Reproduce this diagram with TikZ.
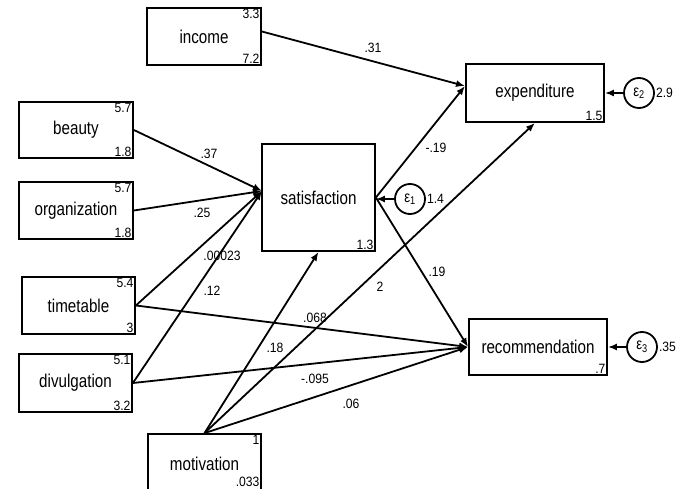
\documentclass[tikz,border=0pt]{standalone}
\usepackage{fontspec}
\setmainfont{Liberation Sans}
\newfontfamily\varfont{Liberation Sans}[FakeStretch=0.82]
\newfontfamily\numfont{Liberation Sans}[FakeStretch=0.9]
\usetikzlibrary{arrows.meta}

\tikzset{
  var/.style={draw, line width=1.8pt, inner sep=0pt, font=\varfont\fontsize{18.5}{20}\selectfont},
  num/.style={font=\numfont\fontsize{13.5}{15}\selectfont, inner sep=2.2pt},
  err/.style={draw, circle, line width=1.8pt, minimum size=30pt, inner sep=0pt, font=\varfont\fontsize{16}{18}\selectfont},
  link/.style={line width=1.8pt, -{Latex[length=9pt,width=7pt]}},
  coef/.style={font=\numfont\fontsize{13.5}{15}\selectfont, inner sep=0pt},
}

\begin{document}
\begin{tikzpicture}[x=1pt, y=-1pt]
		\useasboundingbox (0,0) rectangle (686,489);

		% observed variables
		\node[var, minimum width=114pt, minimum height=57pt,
			label={[num,anchor=north east]north east:3.3},
			label={[num,anchor=south east]south east:7.2}] (inc) at (204,36.5) {income};
		\node[var, minimum width=114pt, minimum height=56pt,
			label={[num,anchor=north east]north east:5.7},
			label={[num,anchor=south east]south east:1.8}] (beauty) at (76,130) {beauty};
		\node[var, minimum width=114pt, minimum height=57pt,
			label={[num,anchor=north east]north east:5.7},
			label={[num,anchor=south east]south east:1.8}] (org) at (76,210.5) {organization};
		\node[var, minimum width=113pt, minimum height=57pt,
			label={[num,anchor=north east]north east:5.4},
			label={[num,anchor=south east]south east:3}] (time) at (78.5,305.5) {timetable};
		\node[var, minimum width=113pt, minimum height=58pt,
			label={[num,anchor=north east]north east:5.1},
			label={[num,anchor=south east]south east:3.2}] (div) at (75.5,383) {divulgation};
		\node[var, minimum width=113pt, minimum height=60pt,
			label={[num,anchor=north east]north east:1},
			label={[num,anchor=south east,yshift=6pt]south east:.033}] (mot) at (204.5,464) {motivation};
		\node[var, minimum width=113pt, minimum height=107pt,
			label={[num,anchor=south east]south east:1.3}] (sat) at (318.5,197.5) {satisfaction};
		\node[var, minimum width=138pt, minimum height=58pt,
			label={[num,anchor=south east]south east:1.5}] (exp) at (535,93) {expenditure};
		\node[var, minimum width=138pt, minimum height=56pt,
			label={[num,anchor=south east]south east:.7}] (rec) at (538,347) {recommendation};

		% error terms
		\node[err, label={[num,inner sep=1pt]east:1.4}] (e1) at (410,199) {ε\textsubscript{1}};
		\node[err, label={[num,inner sep=1pt]east:2.9}] (e2) at (639,93) {ε\textsubscript{2}};
		\node[err, label={[num,inner sep=1pt]east:.35}] (e3) at (642,347) {ε\textsubscript{3}};

		\coordinate (satin) at (262,191);
		\coordinate (expin) at (465,86);

		% paths
		\draw[link] ([yshift=5pt]inc.east) -- (expin);
		\draw[link] (beauty.east) -- (satin);
		\draw[link] (org.east) -- (satin);
		\draw[link] (time.east) -- (satin);
		\draw[link] (div.east) -- (satin);
		\draw[link] (mot.north) -- (sat.south);
		\draw[link] (mot.north) -- (exp.south);
		\draw[link] (mot.north) -- (rec.west);
		\draw[link] (time.east) -- (rec.west);
		\draw[link] (div.east) -- (rec.west);
		\draw[link] (sat.east) -- (expin);
		\draw[link] (sat.east) -- (rec.west);
		\draw[link] (e1.west) -- (e1.west -| sat.east);
		\draw[link] (e2.west) -- (e2.west -| exp.east);
		\draw[link] (e3.west) -- (e3.west -| rec.east);

		% coefficients
		\begin{scope}[every node/.style={coef}]
			\node at (373,48) {.31};
			\node at (209,154) {.37};
			\node at (202,213) {.25};
			\node at (222,256) {.00023};
			\node at (212,291) {.12};
			\node at (315,318) {.068};
			\node at (315,379) {-.095};
			\node at (351,404) {.06};
			\node at (275,348) {.18};
			\node at (380,287) {2};
			\node at (436,148) {-.19};
			\node at (437,272) {.19};
		\end{scope}
	\end{tikzpicture}
\end{document}
